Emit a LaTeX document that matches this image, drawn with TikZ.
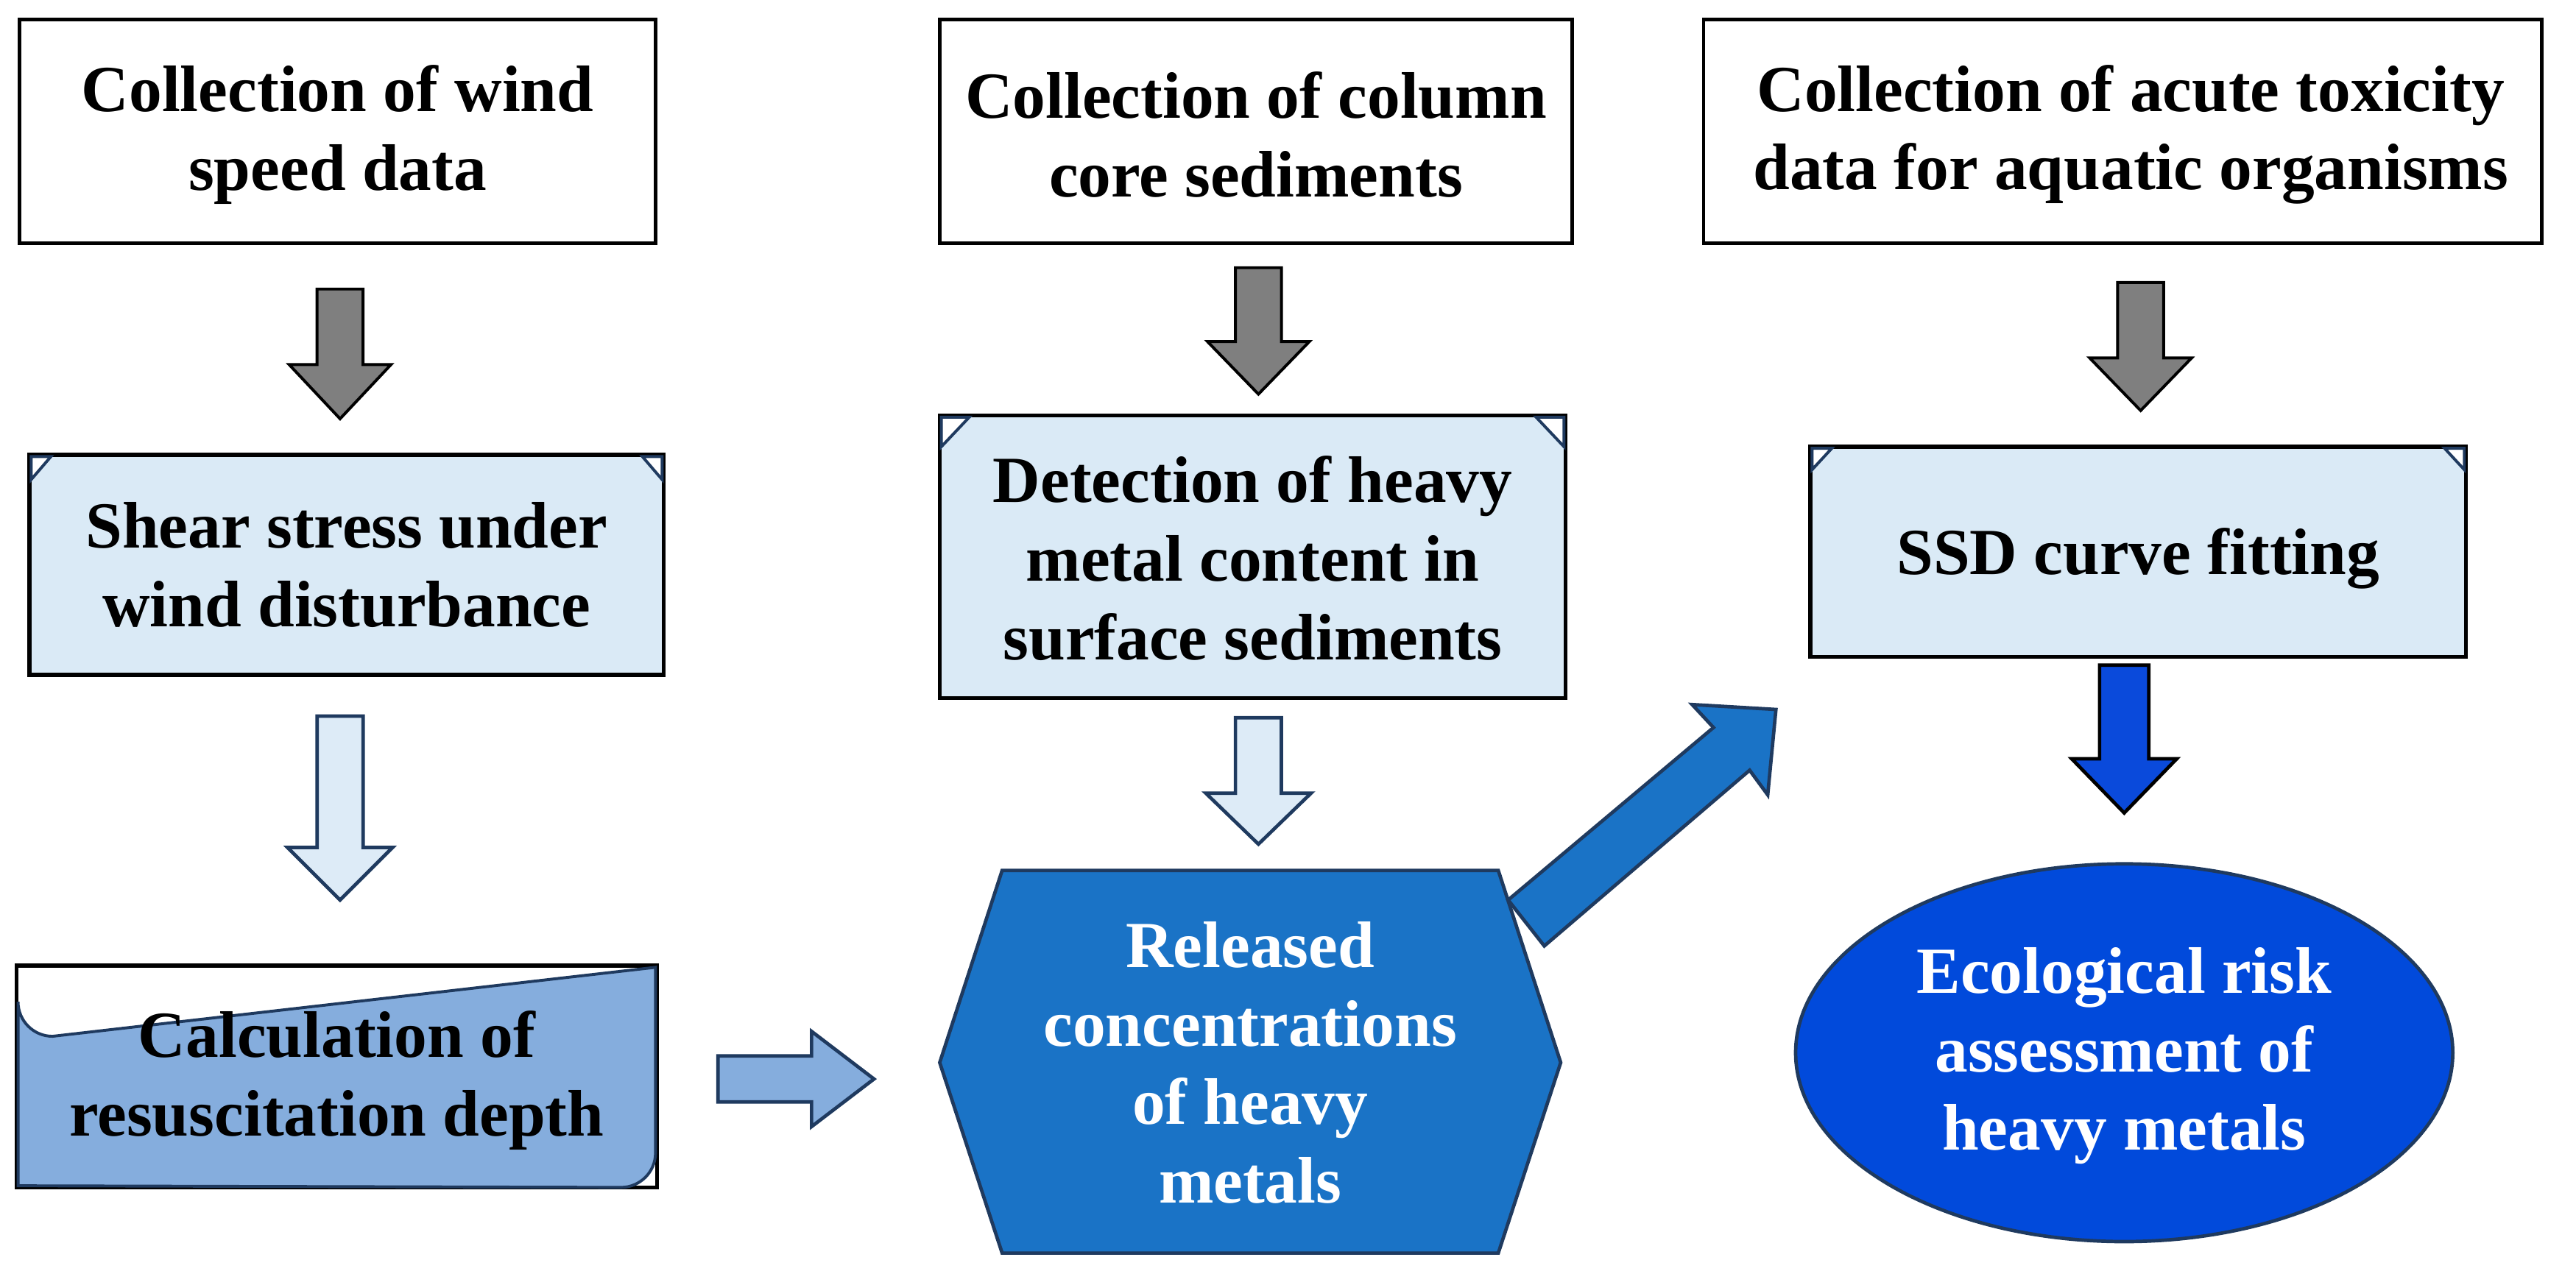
\documentclass[tikz,border=0pt]{standalone}
\usepackage{fontspec}
\setmainfont{Liberation Serif}
\begin{document}
\begin{tikzpicture}[x=0.1mm,y=-0.1mm,
  txt/.style={font=\fontsize{11.4}{13.6}\selectfont\bfseries,align=center},
  topbox/.style={draw=black,line width=0.6pt,fill=white},
  lightbox/.style={draw=black,line width=0.7pt,fill=lightfill},
  greyarr/.style={draw=black,line width=0.5pt,fill=gray!100!white,fill=greyfill},
  lightarr/.style={draw=navy,line width=0.6pt,fill=arrfill},
  corner/.style={draw=navy,line width=0.5pt,fill=white}
  ]
\definecolor{lightfill}{HTML}{DAEAF6}
\definecolor{arrfill}{HTML}{DDEBF7}
\definecolor{greyfill}{HTML}{7F7F7F}
\definecolor{navy}{HTML}{1F3A5F}
\definecolor{calcfill}{HTML}{85ADDD}
\definecolor{hexfill}{HTML}{1A73C6}
\definecolor{ellfill}{HTML}{014ADB}
\definecolor{darkarr}{HTML}{0A4ADB}
\useasboundingbox (0,0) rectangle (1568,782);

% top boxes
\draw[topbox] (12,12) rectangle (399,148);
\node[txt] (wind) at (205.5,82) {Collection of wind\\speed data};
\draw[topbox] (572,12) rectangle (957,148);
\node[txt] (core) at (764.5,82) {Collection of column\\core sediments};
\draw[topbox] (1037,12) rectangle (1547,148);
\node[txt] (tox) at (1297,82) {Collection of acute toxicity\\data for aquatic organisms};

% grey arrows
\draw[greyarr] (193,176) -- (221,176) -- (221,222) -- (238,222) -- (207,255) -- (176,222) -- (193,222) -- cycle;
\draw[greyarr] (752,163) -- (780,163) -- (780,208) -- (797,208) -- (766,240) -- (735,208) -- (752,208) -- cycle;
\draw[greyarr] (1289,172) -- (1317,172) -- (1317,218) -- (1334,218) -- (1303,250) -- (1272,218) -- (1289,218) -- cycle;

% snipped light boxes
\draw[lightbox] (18,277) rectangle (404,411);
\draw[corner] (19,278) -- (31,278) -- (19,292) -- cycle;
\draw[corner] (403,278) -- (391,278) -- (403,292) -- cycle;
\node[txt] (shear) at (211,344) {Shear stress under\\wind disturbance};

\draw[lightbox] (572,253) rectangle (953,425);
\draw[corner] (573,254) -- (590,254) -- (573,272) -- cycle;
\draw[corner] (952,254) -- (935,254) -- (952,272) -- cycle;
\node[txt] (detect) at (762.5,340) {Detection of heavy\\metal content in\\surface sediments};

\draw[lightbox] (1102,272) rectangle (1501,400);
\draw[corner] (1103,273) -- (1115,273) -- (1103,286) -- cycle;
\draw[corner] (1500,273) -- (1488,273) -- (1500,286) -- cycle;
\node[txt] (ssd) at (1301.5,340) {SSD curve fitting};

% light arrows
\draw[lightarr] (193,436) -- (221,436) -- (221,516) -- (239,516) -- (207,548) -- (175,516) -- (193,516) -- cycle;
\draw[lightarr] (752,437) -- (780,437) -- (780,483) -- (798,483) -- (766,514) -- (734,483) -- (752,483) -- cycle;

% calculation box
\draw[draw=black,line width=0.7pt,fill=white] (10,588) rectangle (400,723);
\draw[draw=navy,line width=0.5pt,fill=calcfill] (11,610) arc[start angle=180,end angle=90,radius=21] -- (399,589) -- (399,702) arc[start angle=0,end angle=90,radius=21] -- (11,722) -- cycle;
\node[txt] (calc) at (205,658) {Calculation of\\resuscitation depth};

% right arrow
\draw[draw=navy,line width=0.6pt,fill=calcfill] (437,643) -- (494,643) -- (494,628) -- (532,657) -- (494,686) -- (494,671) -- (437,671) -- cycle;

% hexagon
\draw[draw=navy,line width=0.6pt,fill=hexfill] (572,647) -- (610,530) -- (912,530) -- (950,647) -- (912,763) -- (610,763) -- cycle;
\node[txt,text=white] (rel) at (761,647) {Released\\concentrations\\of heavy\\metals};

% diagonal arrow
\draw[draw=navy,line width=0.6pt,fill=hexfill] (918,548) -- (1043,443) -- (1030,429) -- (1081,432) -- (1076,484) -- (1065,469) -- (940,576) -- cycle;

% dark arrow and ellipse
\draw[draw=black,line width=0.6pt,fill=darkarr] (1278,405) -- (1308,405) -- (1308,462) -- (1325,462) -- (1293,495) -- (1261,462) -- (1278,462) -- cycle;
\draw[draw=navy,line width=0.6pt,fill=ellfill] (1293,641) ellipse[x radius=200,y radius=115];
\node[txt,text=white] (eco) at (1293,643) {Ecological risk\\assessment of\\heavy metals};
\end{tikzpicture}
\end{document}
